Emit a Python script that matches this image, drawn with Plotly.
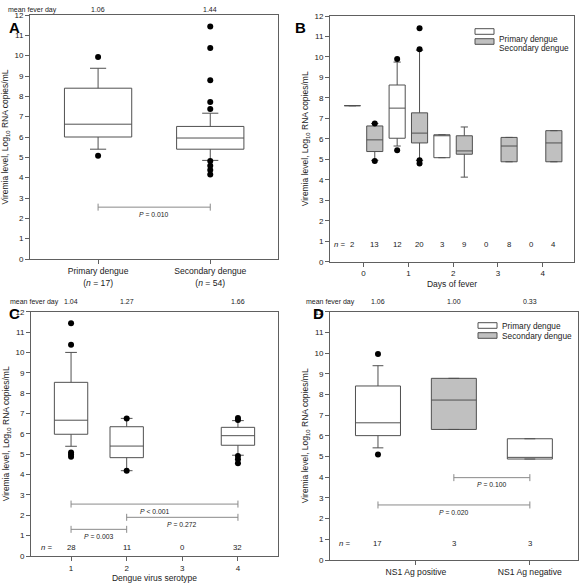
import plotly.graph_objects as go

FONT = "Liberation Sans, Arial, Helvetica, sans-serif"
LINE = "#505050"
AXIS = "#606060"
PCOL = "#8a8a8a"
TXT = "#222222"
WHITE = "#ffffff"
GRAY = "#c0c0c0"
W, H = 580, 585

# ---------------- Panel A ----------------
A_labels = ["Primary dengue<br>(<i>n</i> = 17)", "Secondary dengue<br>(<i>n</i> = 54)"]
A_mean_fever = ["1.06", "1.44"]
A_q1 = [6.00, 5.40]
A_median = [6.63, 5.95]
A_q3 = [8.40, 6.52]
A_lower = [5.40, 4.85]
A_upper = [9.38, 7.17]
A_out_primary = [9.93, 5.08]
A_out_secondary = [11.43, 10.38, 8.79, 7.72, 7.38, 4.82, 4.59, 4.38, 4.16]
A_p_text = "= 0.010"
A_p_y = 2.55

# ---------------- Panel B ----------------
B_days = [0, 1, 2, 3, 4]
B_n_primary = [2, 12, 3, 0, 0]
B_n_secondary = [13, 20, 9, 8, 4]
B_prim_days = [0, 1, 2]
B_prim_q1 = [7.62, 6.03, 5.08]
B_prim_median = [7.62, 7.50, 6.20]
B_prim_q3 = [7.62, 8.63, 6.20]
B_prim_lower = [7.62, 5.65, 5.08]
B_prim_upper = [7.62, 9.75, 6.20]
B_sec_q1 = [5.38, 5.80, 5.25, 4.88, 4.88]
B_sec_median = [5.95, 6.28, 5.41, 5.65, 5.80]
B_sec_q3 = [6.63, 7.27, 6.15, 6.07, 6.40]
B_sec_lower = [4.95, 4.95, 4.13, 4.88, 4.88]
B_sec_upper = [6.75, 10.33, 6.58, 6.07, 6.40]
B_out_prim_day = [1, 1]
B_out_prim_val = [9.90, 5.44]
B_out_sec_day = [0, 0, 1, 1, 1, 1]
B_out_sec_val = [6.75, 4.92, 11.40, 10.37, 4.95, 4.80]

# ---------------- Panel C ----------------
C_serotypes = [1, 2, 3, 4]
C_n = [28, 11, 0, 32]
C_mean_fever = ["1.04", "1.27", "", "1.66"]
C_box_serotypes = [1, 2, 4]
C_q1 = [5.98, 4.83, 5.44]
C_median = [6.67, 5.40, 5.91]
C_q3 = [8.53, 6.35, 6.32]
C_lower = [5.39, 4.19, 4.95]
C_upper = [10.00, 6.76, 6.65]
C_out_sero = [1, 1, 1, 1, 1, 2, 2, 4, 4, 4, 4, 4]
C_out_val = [11.43, 10.38, 5.09, 4.99, 4.88, 6.76, 4.19, 6.78, 6.68, 4.91, 4.75, 4.55]
C_p_from = [1, 2, 1]
C_p_to = [4, 4, 2]
C_p_text = ["< 0.001", "= 0.272", "= 0.003"]
C_p_y = [2.55, 1.90, 1.31]

# ---------------- Panel D ----------------
D_labels = ["NS1 Ag positive", "NS1 Ag negative"]
D_mean_fever = ["1.06", "1.00", "0.33"]
D_n = [17, 3, 3]
D_prim_group = [1, 2]          # positive (left of centre), negative (centred)
D_prim_q1 = [6.01, 4.88]
D_prim_median = [6.63, 4.96]
D_prim_q3 = [8.41, 5.86]
D_prim_lower = [5.42, 4.88]
D_prim_upper = [9.39, 5.86]
D_sec_q1 = [6.31]
D_sec_median = [7.73]
D_sec_q3 = [8.78]
D_sec_lower = [6.31]
D_sec_upper = [8.78]
D_out_prim = [9.95, 5.10]
D_p_text = ["= 0.100", "= 0.020"]
D_p_y = [3.98, 2.66]

Y_TICKS = list(range(0, 13))

# text sizes
F_TICK = 8
F_TITLE = 8.5
F_MEAN = 7
F_P = 6.8
F_N = 7.8
F_LEG = 8.3

fig = go.Figure()


def px_x(p):
    return p / W


def px_y(p):
    return (H - p) / H


def add_box(ax, x, q1, med, q3, lo, hi, width, fill, ww):
    fig.add_trace(go.Box(
        x=x, q1=q1, median=med, q3=q3, lowerfence=lo, upperfence=hi,
        width=width, whiskerwidth=ww, fillcolor=fill, boxpoints=False,
        line=dict(color=LINE, width=1), showlegend=False, hoverinfo="skip",
        xaxis="x" + ax, yaxis="y" + ax))


def add_points(ax, x, y):
    fig.add_trace(go.Scatter(
        x=x, y=y, mode="markers", showlegend=False, hoverinfo="skip",
        marker=dict(color="black", size=6), xaxis="x" + ax, yaxis="y" + ax))


def add_pbar(ax, x0, x1, y, text):
    fig.add_trace(go.Scatter(
        x=[x0, x1], y=[y, y], mode="lines+markers", showlegend=False, hoverinfo="skip",
        line=dict(color=PCOL, width=1),
        marker=dict(symbol="line-ns", size=5, line=dict(color=PCOL, width=1)),
        xaxis="x" + ax, yaxis="y" + ax))
    fig.add_annotation(x=(x0 + x1) / 2, y=y - 0.35, xref="x" + ax, yref="y" + ax,
                       text="<i>P</i> " + text, showarrow=False,
                       font=dict(size=F_P, color=TXT))


def n_label(ax, x, y, text, anchor="center"):
    fig.add_annotation(x=x, y=y, xref="x" + ax, yref="y" + ax, text=text,
                       xanchor=anchor, showarrow=False, font=dict(size=F_N, color=TXT))


# ----- A -----
add_box("", [1, 2], A_q1, A_median, A_q3, A_lower, A_upper, 0.6, WHITE, 0.24)
add_points("", [1] * len(A_out_primary), A_out_primary)
add_points("", [2] * len(A_out_secondary), A_out_secondary)
add_pbar("", 1, 2, A_p_y, A_p_text)

# ----- B -----
off = 0.25
add_box("2", [d - off for d in B_prim_days], B_prim_q1, B_prim_median, B_prim_q3,
        B_prim_lower, B_prim_upper, 0.36, WHITE, 0.45)
add_box("2", [d + off for d in B_days], B_sec_q1, B_sec_median, B_sec_q3,
        B_sec_lower, B_sec_upper, 0.36, GRAY, 0.45)
add_points("2", [d - off for d in B_out_prim_day], B_out_prim_val)
add_points("2", [d + off for d in B_out_sec_day], B_out_sec_val)
for d, n1, n2 in zip(B_days, B_n_primary, B_n_secondary):
    n_label("2", d - off, 0.85, str(n1))
    n_label("2", d + off, 0.85, str(n2))
n_label("2", -0.34, 0.85, "<i>n</i> =", "right")

# ----- C -----
add_box("3", C_box_serotypes, C_q1, C_median, C_q3, C_lower, C_upper, 0.6, WHITE, 0.35)
add_points("3", C_out_sero, C_out_val)
for a, b, t, y in zip(C_p_from, C_p_to, C_p_text, C_p_y):
    add_pbar("3", a, b, y, t)
for s, n in zip(C_serotypes, C_n):
    n_label("3", s, 0.43, str(n))
n_label("3", 0.72, 0.43, "<i>n</i> =", "right")

# ----- D -----
doff = 0.333
D_prim_x = [D_prim_group[0] - doff, D_prim_group[1]]
D_sec_x = [D_prim_group[0] + doff]
add_box("4", D_prim_x, D_prim_q1, D_prim_median, D_prim_q3, D_prim_lower, D_prim_upper,
        0.395, WHITE, 0.24)
add_box("4", D_sec_x, D_sec_q1, D_sec_median, D_sec_q3, D_sec_lower, D_sec_upper,
        0.395, GRAY, 0.24)
add_points("4", [D_prim_x[0]] * len(D_out_prim), D_out_prim)
add_pbar("4", D_sec_x[0], D_prim_x[1], D_p_y[0], D_p_text[0])
add_pbar("4", D_prim_x[0], D_prim_x[1], D_p_y[1], D_p_text[1])
D_all_x = [D_prim_x[0], D_sec_x[0], D_prim_x[1]]
for x, n in zip(D_all_x, D_n):
    n_label("4", x, 0.8, str(n))
n_label("4", 0.45, 0.8, "<i>n</i> =", "right")


# ----- mean fever day rows -----
def mean_row(xref, xs, labels, ypx, left_px):
    fig.add_annotation(x=px_x(left_px), y=px_y(ypx), xref="paper", yref="paper",
                       text="mean fever day", xanchor="left", showarrow=False,
                       font=dict(size=F_MEAN, color=TXT))
    for x, t in zip(xs, labels):
        if t:
            fig.add_annotation(x=x, y=px_y(ypx), xref=xref, yref="paper", text=t,
                               showarrow=False, font=dict(size=F_MEAN, color=TXT))


mean_row("x", [1, 2], A_mean_fever, 4.5, 6)
mean_row("x3", C_serotypes, C_mean_fever, 302, 8)
mean_row("x4", D_all_x, D_mean_fever, 302, 304)

# ----- panel letters -----
for letter, xp, yp in [("A", 7, 17), ("B", 300, 17), ("C", 7, 313), ("D", 318, 313)]:
    fig.add_annotation(x=px_x(xp), y=px_y(yp), xref="paper", yref="paper",
                       text="<b>%s</b>" % letter, showarrow=False,
                       font=dict(size=15, color="black"))

# ----- legends (B and D) -----
LEG_NAMES = ["Primary dengue", "Secondary dengue"]
LEG_FILLS = [WHITE, GRAY]
for (lx, ly) in [(475, 31.5), (478, 325.5)]:
    for i, (name, fill) in enumerate(zip(LEG_NAMES, LEG_FILLS)):
        yc = ly + i * 10
        fig.add_shape(type="rect", xref="paper", yref="paper",
                      x0=px_x(lx), x1=px_x(lx + 19), y0=px_y(yc + 2.8), y1=px_y(yc - 2.8),
                      fillcolor=fill, line=dict(color=LINE, width=1))
        fig.add_annotation(x=px_x(lx + 22), y=px_y(yc), xref="paper", yref="paper",
                           text=name, xanchor="left", showarrow=False,
                           font=dict(size=F_LEG, color=TXT))

# ----- axes -----
common_x = dict(showline=True, mirror=True, linecolor=AXIS, linewidth=1, ticks="outside",
                ticklen=4, tickcolor=AXIS, showgrid=False, zeroline=False, automargin=False,
                tickfont=dict(size=F_TICK, color=TXT))
common_y = dict(common_x, tickvals=Y_TICKS, range=[0, 12],
                title=dict(text="Viremia level, Log<sub>10</sub> RNA copies/mL",
                           font=dict(size=F_TITLE, color=TXT), standoff=4))

fig.update_layout(
    width=W, height=H, margin=dict(l=0, r=0, t=0, b=0, autoexpand=False),
    paper_bgcolor="white", plot_bgcolor="white",
    font=dict(family=FONT, color=TXT),
    boxmode="overlay",
    xaxis=dict(common_x, domain=[px_x(30), px_x(278)], range=[0.393, 2.604],
               tickvals=[1, 2], ticktext=A_labels, anchor="y",
               tickfont=dict(size=8.6, color=TXT)),
    yaxis=dict(common_y, domain=[px_y(259), px_y(15)], anchor="x"),
    xaxis2=dict(common_x, domain=[px_x(330), px_x(574)], range=[-0.75, 4.7],
                tickvals=B_days, anchor="y2",
                title=dict(text="Days of fever", font=dict(size=F_TITLE, color=TXT), standoff=3)),
    yaxis2=dict(common_y, domain=[px_y(261.7), px_y(16)], anchor="x2"),
    xaxis3=dict(common_x, domain=[px_x(31), px_x(278)], range=[0.28, 4.72],
                tickvals=C_serotypes, anchor="y3",
                title=dict(text="Dengue virus serotype", font=dict(size=F_TITLE, color=TXT),
                           standoff=3)),
    yaxis3=dict(common_y, domain=[px_y(556), px_y(311.7)], anchor="x3"),
    xaxis4=dict(common_x, domain=[px_x(330), px_x(577.7)], range=[0.246, 2.42],
                tickvals=D_prim_group, ticktext=D_labels, anchor="y4",
                tickfont=dict(size=8.6, color=TXT)),
    yaxis4=dict(common_y, domain=[px_y(560), px_y(311.7)], anchor="x4"),
)

fig.write_html("out.html", config={"displayModeBar": False},
               post_script="document.body.style.margin='0';")
